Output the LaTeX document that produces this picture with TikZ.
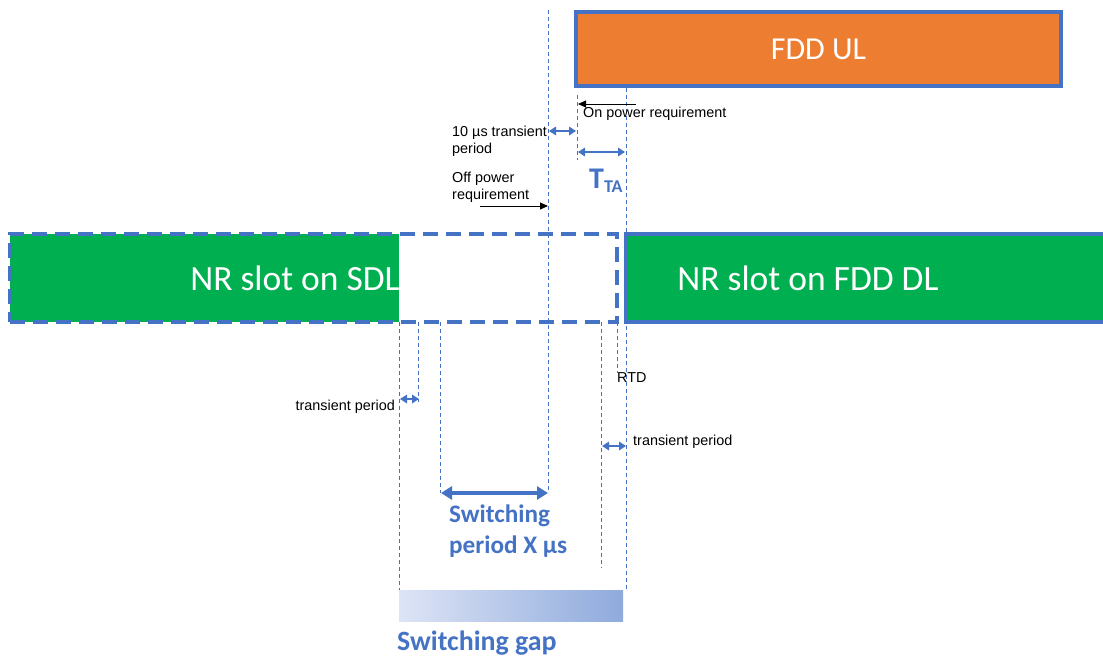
\documentclass[tikz,border=0pt]{standalone}
\usepackage{fontspec}
\setmainfont{Liberation Sans}
\newfontfamily\calfont{Carlito}
\usetikzlibrary{arrows.meta}
\definecolor{bl}{HTML}{4472C4}
\definecolor{org}{HTML}{ED7D31}
\definecolor{grn}{HTML}{00B050}
\definecolor{gL}{HTML}{DDE4F6}
\definecolor{gR}{HTML}{8FAADC}
\tikzset{
  vline/.style={draw=bl, line width=0.9pt, dash pattern=on 4pt off 3pt},
  darr/.style={draw=bl, line width=1.6pt, {Triangle[length=7pt,width=8.5pt]}-{Triangle[length=7pt,width=8.5pt]}},
  bigarr/.style={draw=bl, line width=3.6pt, {Triangle[length=11pt,width=13pt]}-{Triangle[length=11pt,width=13pt]}},
  blkarr/.style={draw=black, line width=1pt, -{Triangle[length=8pt,width=7pt]}},
  small/.style={font=\fontsize{14.4}{17}\selectfont, text=black, inner sep=0pt, align=left},
  bigtxt/.style={font=\calfont\fontsize{35.5}{40}\selectfont, text=white, inner sep=0pt},
  bluetxt/.style={font=\calfont\bfseries\fontsize{25.2}{31}\selectfont, text=bl, inner sep=0pt, align=left},
}
\begin{document}
\begin{tikzpicture}[x=1pt,y=-1pt]
\useasboundingbox (0,0) rectangle (1103,657);
\fill[white] (0,0) rectangle (1103,657);

% boxes
\node[draw=bl, line width=3.5pt, fill=org, minimum width=485pt, minimum height=74pt, anchor=north west, inner sep=0pt, outer sep=0pt] (ul) at (576,12) {};
\node[font=\calfont\fontsize{32}{36}\selectfont, text=white, inner sep=0pt] (ultxt) at (ul.center) {FDD UL};

\node[fill=grn, minimum width=389pt, minimum height=88pt, anchor=north west, inner sep=0pt, outer sep=0pt] (sdl) at (10,234) {};
\node[draw=bl, line width=3.5pt, dash pattern=on 15pt off 8pt, minimum width=607pt, minimum height=88pt, anchor=north west, inner sep=0pt, outer sep=0pt] (dbox) at (10,234) {};
\node[bigtxt] (sdltxt) at (295,278) {NR slot on SDL};

\node[draw=bl, line width=3.8pt, fill=grn, minimum width=500pt, minimum height=88pt, anchor=north west, inner sep=0pt, outer sep=0pt] (dl) at (626,234) {};
\node[bigtxt] (dltxt) at (808,278) {NR slot on FDD DL};

% vertical dashed lines
\coordinate (a1) at (548,10);  \coordinate (a2) at (548,493);
\coordinate (b1) at (577,95);  \coordinate (b2) at (577,160);
\coordinate (c1) at (626,88);  \coordinate (c2) at (626,590);
\coordinate (d1) at (617,322); \coordinate (d2) at (617,373);
\coordinate (e1) at (601,322); \coordinate (e2) at (601,568);
\coordinate (f1) at (399,322); \coordinate (f2) at (399,590);
\coordinate (g1) at (418,322); \coordinate (g2) at (418,402);
\coordinate (h1) at (440,322); \coordinate (h2) at (440,493);
\foreach \p in {a,b,c,d,e,f,g,h} \draw[vline] (\p1) -- (\p2);

% arrows
\coordinate (on1) at (636,104); \coordinate (on2) at (578,104);
\draw[blkarr] (on1) -- (on2);
\coordinate (off1) at (480,206); \coordinate (off2) at (548,206);
\draw[blkarr] (off1) -- (off2);
\coordinate (t1) at (549,131); \coordinate (t2) at (576,131);
\draw[darr] (t1) -- (t2);
\coordinate (ta1) at (578,152); \coordinate (ta2) at (625,152);
\draw[darr] (ta1) -- (ta2);
\coordinate (lt1) at (400,399); \coordinate (lt2) at (419,399);
\draw[darr] (lt1) -- (lt2);
\coordinate (rt1) at (602,446); \coordinate (rt2) at (626,446);
\draw[darr] (rt1) -- (rt2);
\coordinate (sp1) at (441,493); \coordinate (sp2) at (548,493);
\draw[bigarr] (sp1) -- (sp2);

% labels
\node[small, anchor=west] (onl) at (583,114) {On power requirement};
\node[small, anchor=north west] (tenl) at (452,126) {10 µs transient\\period};
\node[small, anchor=north west] (offl) at (452,172) {Off power\\requirement};
\node[text=bl, font=\calfont\bfseries\fontsize{30}{30}\selectfont, inner sep=0pt, anchor=west] (tta) at (589,181) {T\textsubscript{\fontsize{18}{18}\selectfont TA}};
\node[small, anchor=west] (rtd) at (617,378) {RTD};
\node[small, anchor=east] (ltl) at (395,407) {transient period};
\node[small, anchor=west] (rtl) at (633,442) {transient period};
\node[bluetxt, anchor=north west] (spl) at (449,505) {Switching\\period X µs};

% switching gap
\node[minimum width=224pt, minimum height=31pt, anchor=north west, inner sep=0pt, outer sep=0pt, left color=gL, right color=gR] (gap) at (399,590) {};
\node[text=bl, font=\calfont\bfseries\fontsize{27.9}{30}\selectfont, inner sep=0pt, anchor=west] (gapl) at (397,643) {Switching gap};
\end{tikzpicture}
\end{document}
